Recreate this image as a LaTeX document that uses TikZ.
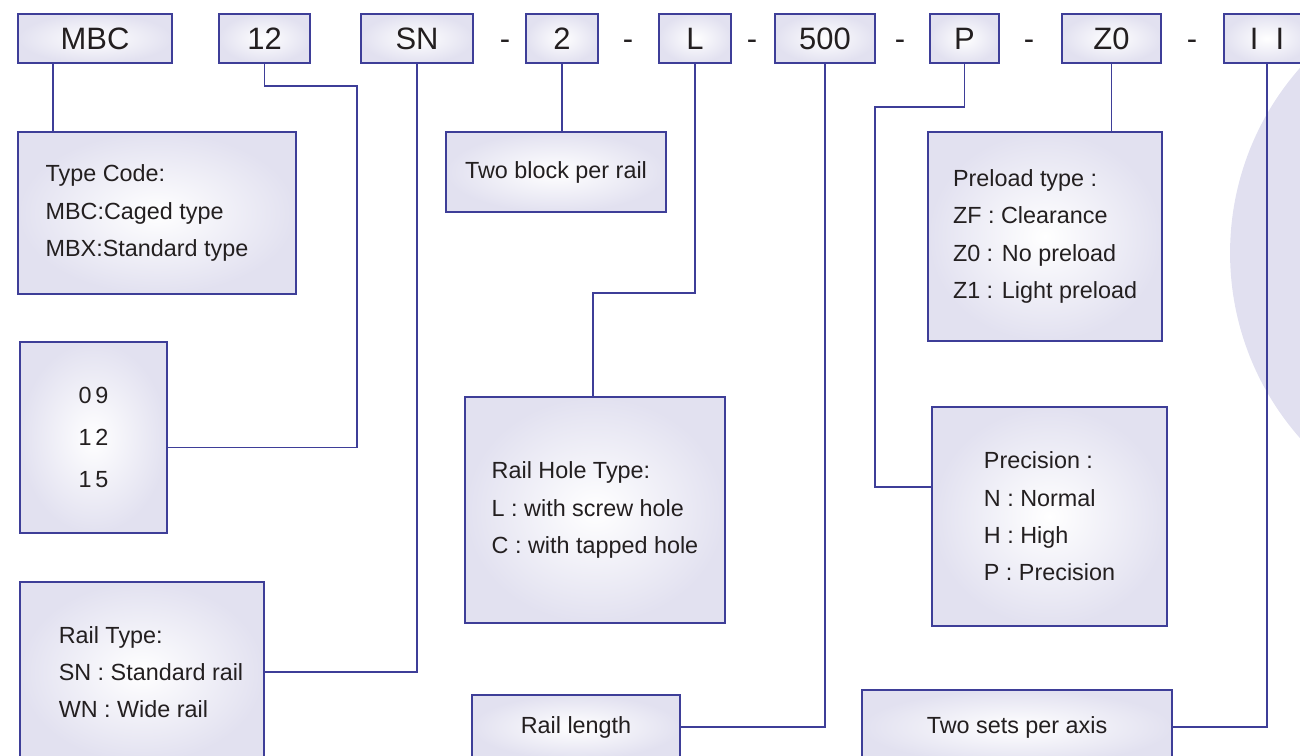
\documentclass[tikz,border=0pt]{standalone}
\usepackage{fontspec}
\setmainfont{Liberation Sans}
\definecolor{lineC}{RGB}{62,62,152}
\definecolor{fillC}{RGB}{226,225,240}
\definecolor{bgC}{RGB}{225,224,240}
\definecolor{textC}{RGB}{35,31,32}
\begin{document}
\begin{tikzpicture}[x=0.02cm,y=-0.02cm,
  codeS/.style={draw=lineC,line width=0.8pt,inner color=white,outer color=fillC,minimum height=0.98cm,text=textC,font=\fontsize{17.6}{20}\selectfont},
  descS/.style={draw=lineC,line width=0.8pt,inner color=white,outer color=fillC,align=left,text=textC,font=\fontsize{13.3}{21.2}\selectfont},
  dashS/.style={anchor=base,text=textC,font=\fontsize{17.6}{20}\selectfont},
  linkS/.style={lineC,line width=0.8pt}]
\useasboundingbox (0,0) rectangle (1300,756);
\clip (0,0) rectangle (1300,756);
\fill[bgC] (1510,253) circle[radius=5.6cm];

\node[codeS,minimum width=3.08cm] (mbc) at (95,38.5) {MBC};
\node[codeS,minimum width=1.82cm] (n12) at (264.5,38.5) {12};
\node[codeS,minimum width=2.24cm] (sn) at (417,38.5) {SN};
\node[codeS,minimum width=1.44cm] (n2) at (562,38.5) {2};
\node[codeS,minimum width=1.44cm] (nl) at (695,38.5) {L};
\node[codeS,minimum width=2.0cm] (n500) at (825,38.5) {500};
\node[codeS,minimum width=1.38cm] (np) at (964.5,38.5) {P};
\node[codeS,minimum width=1.98cm] (nz0) at (1111.5,38.5) {Z0};
\node[codeS,minimum width=1.72cm] (nii) at (1267,38.5) {I\ \ I};
\foreach \x [count=\i] in {505,628,752,900,1029,1192}
  \node[dashS] (d\i) at (\x,50) {-};

\node[descS,minimum width=5.56cm,minimum height=3.24cm] (typebox) at (157,213) {Type Code:\\MBC:Caged type\\MBX:Standard type\hspace*{0.4cm}};
\node[descS,align=center,font=\fontsize{13.3}{24}\selectfont,minimum width=2.94cm,minimum height=3.82cm] (sizebox) at (93.5,437.5) {0\,9\\1\,2\\1\,5};
\node[descS,minimum width=4.88cm,minimum height=3.6cm] (railbox) at (142,672) {\hspace*{0.36cm}Rail Type:\\\hspace*{0.36cm}SN : Standard rail\\\hspace*{0.36cm}WN : Wide rail};
\node[descS,minimum width=4.4cm,minimum height=1.6cm] (blockbox) at (556,172) {Two block per rail};
\node[descS,minimum width=5.2cm,minimum height=4.52cm] (holebox) at (595,510) {Rail Hole Type:\\L : with screw hole\\C : with tapped hole};
\node[descS,minimum width=4.16cm,minimum height=1.28cm] (lengthbox) at (576,727) {Rail length};
\node[descS,minimum width=4.68cm,minimum height=4.18cm] (preloadbox) at (1045,236.5) {Preload type :\\ZF : Clearance\\Z0 : No preload\\Z1 : Light preload};
\node[descS,minimum width=4.7cm,minimum height=4.38cm] (precbox) at (1049.5,516.5) {Precision :\\N : Normal\\H : High\\P : Precision};
\node[descS,minimum width=6.2cm,minimum height=1.48cm] (setsbox) at (1017,727) {Two sets per axis};

\draw[linkS] ([xshift=-0.84cm]mbc.south) -- ([xshift=-0.84cm]mbc.south |- typebox.north);
\draw[linkS] (n12.south) |- (357,86) |- ([yshift=-0.2cm]sizebox.east);
\draw[linkS] (sn.south) |- (railbox.east);
\draw[linkS] (n2.south) -- (n2.south |- blockbox.north);
\draw[linkS] (nl.south) |- (593,293) -- (593,0 |- holebox.north);
\draw[linkS] (n500.south) |- (lengthbox.east);
\draw[linkS] (np.south) |- (875,107) |- ([yshift=0.59cm]precbox.west);
\draw[linkS] (nz0.south) -- (nz0.south |- preloadbox.north);
\draw[linkS] (nii.south) |- (setsbox.east);
\end{tikzpicture}
\end{document}
